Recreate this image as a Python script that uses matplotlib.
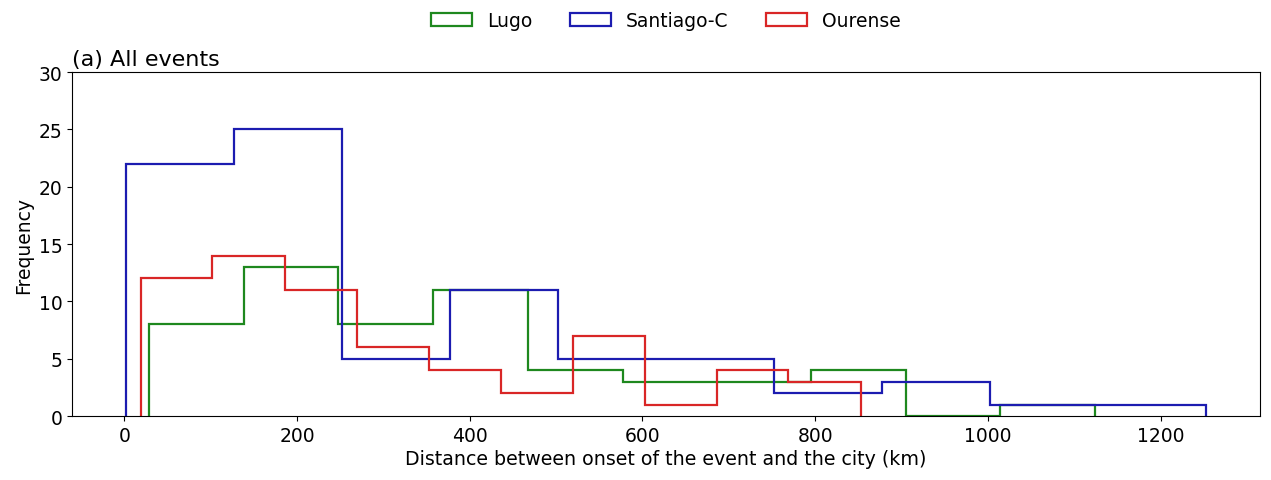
import numpy as np
import matplotlib
matplotlib.use("Agg")
import matplotlib.pyplot as plt

# bin edges (km) and counts
lugo_edges = [29, 139, 248, 358, 467, 577, 686, 795, 905, 1014, 1124]
lugo_counts = [8, 13, 8, 11, 4, 3, 3, 4, 0, 1]

santiago_edges = [2, 127, 252, 377, 502, 627, 752, 877, 1002, 1127, 1252]
santiago_counts = [22, 25, 5, 11, 5, 5, 2, 3, 1, 1]

ourense_edges = [19, 102, 186, 269, 353, 436, 519, 603, 686, 769, 853]
ourense_counts = [12, 14, 11, 6, 4, 2, 7, 1, 4, 3]

series = [
    ("Lugo", lugo_edges, lugo_counts, "#1e881e"),
    ("Santiago-C", santiago_edges, santiago_counts, "#1c1cb0"),
    ("Ourense", ourense_edges, ourense_counts, "#d92626"),
]

fig = plt.figure(figsize=(12.71, 4.81), dpi=100)
ax = fig.add_axes([0.0567, 0.133, 0.9343, 0.715])

for name, edges, counts, col in series:
    edges = np.array(edges, dtype=float)
    ax.hist(edges[:-1] + 1, bins=edges, weights=counts, histtype="step",
            color=col, linewidth=1.6, label=name)

ax.set_ylim(0, 30)
ax.tick_params(labelsize=13.5)
ax.set_xlabel("Distance between onset of the event and the city (km)", fontsize=13.7, labelpad=3)
ax.set_ylabel("Frequency", fontsize=13.5)
ax.set_title("(a) All events", loc="left", fontsize=16, pad=5)

fig.legend(loc="upper center", bbox_to_anchor=(0.524, 1.01), ncol=3, frameon=False,
           fontsize=13.5, columnspacing=2.0, handlelength=2.2)

fig.savefig("out.png", dpi=100)
